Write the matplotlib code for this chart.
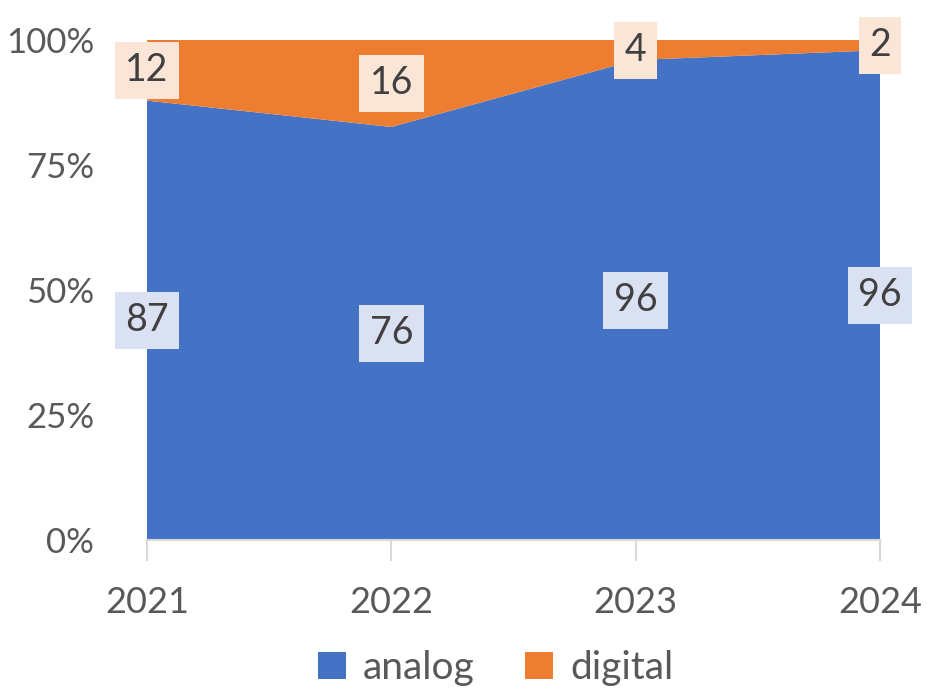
import matplotlib
matplotlib.use("Agg")
import matplotlib.pyplot as plt
import numpy as np
from matplotlib.ticker import FuncFormatter

# chart data
years = ["2021", "2022", "2023", "2024"]
analog = [87, 76, 96, 96]
digital = [12, 16, 4, 2]

plt.rcParams['font.family'] = ['Lato', 'DejaVu Sans']

blue = "#4472C4"
orange = "#ED7D31"
tick_col = "#595959"
lab_col = "#404040"

x = np.arange(len(years))
tot = np.array(analog) + np.array(digital)
a_share = np.array(analog) / tot
d_share = np.array(digital) / tot

fig = plt.figure(figsize=(9.27, 6.91), dpi=100)
ax = fig.add_axes([147/927, 1-540/691, (880-147)/927, 500/691])

ax.stackplot(x, a_share, d_share, colors=[blue, orange], labels=["analog", "digital"], linewidth=0)

ax.set_xlim(0, len(years)-1)
ax.set_ylim(0, 1)

# data labels in the middle of each band
for i in range(len(years)):
	ax.text(x[i], a_share[i]/2, str(analog[i]), ha="center", va="center", fontsize=27, color=lab_col,
		bbox=dict(boxstyle="square,pad=0.28", fc="#DAE1F2", ec="none"), clip_on=False, zorder=5)
	ax.text(x[i], a_share[i] + d_share[i]/2, str(digital[i]), ha="center", va="center", fontsize=27, color=lab_col,
		bbox=dict(boxstyle="square,pad=0.28", fc="#FBE5D6", ec="none"), clip_on=False, zorder=5)

ax.set_yticks([0, 0.25, 0.5, 0.75, 1.0])
ax.yaxis.set_major_formatter(FuncFormatter(lambda v, p: "%d%%" % round(v*100)))
ax.set_xticks(x)
ax.set_xticklabels(years)
ax.tick_params(axis="y", length=0, pad=38, labelsize=25, labelcolor=tick_col)
ax.tick_params(axis="x", length=15, width=1.5, color="#D9D9D9", pad=18, labelsize=26, labelcolor=tick_col)

for s in ["top", "right", "left"]:
	ax.spines[s].set_visible(False)
ax.spines["bottom"].set_color("#D9D9D9")
ax.spines["bottom"].set_linewidth(1.5)

fig.legend(loc="center", bbox_to_anchor=(0.535, 1-668/691), ncol=2, frameon=False, fontsize=28,
	labelcolor=tick_col, handlelength=0.7, handleheight=0.7, handletextpad=0.45, columnspacing=1.3)

fig.savefig("out.png", dpi=100)
